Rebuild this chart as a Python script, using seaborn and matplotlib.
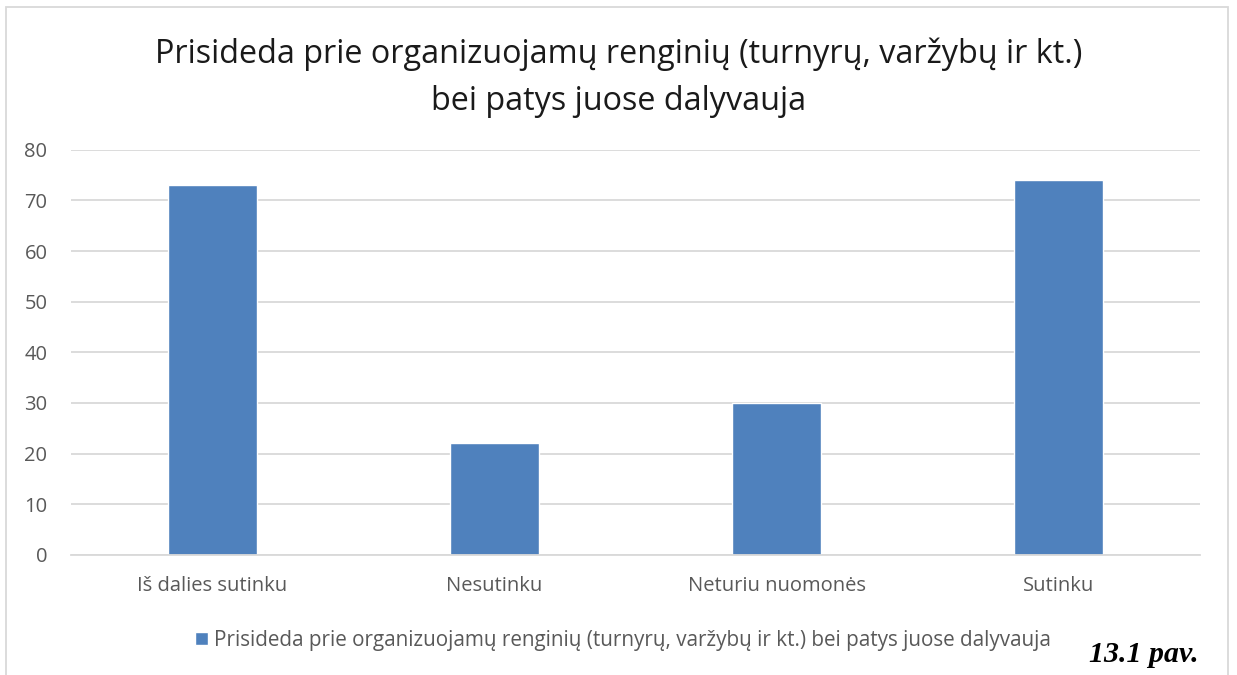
import numpy as np
import pandas as pd
import matplotlib.pyplot as plt
import seaborn as sns
from matplotlib.patches import Rectangle

# Data
categories = ['Iš dalies sutinku', 'Nesutinku', 'Neturiu nuomonės', 'Sutinku']
values = [73, 22, 30, 74]
series_name = 'Prisideda prie organizuojamų renginių (turnyrų, varžybų ir kt.) bei patys juose dalyvauja'
title = 'Prisideda prie organizuojamų renginių (turnyrų, varžybų ir kt.)\nbei patys juose dalyvauja'
yticks = [0, 10, 20, 30, 40, 50, 60, 70, 80]

df = pd.DataFrame({'Atsakymas': categories, 'Skaicius': values})

sns.set_style('white')
plt.rcParams['font.family'] = ['Open Sans', 'DejaVu Sans']

fig = plt.figure(figsize=(12.37, 6.75), dpi=100)
ax = fig.add_axes([0.0574, 0.178, 0.9126, 0.600])

bar_color = '#4f81bd'
sns.barplot(data=df, x='Atsakymas', y='Skaicius', color=bar_color, width=0.315,
            saturation=1, ax=ax, label=series_name)

ax.set_ylim(0, 80)
ax.set_yticks(yticks)
ax.set_xlim(-0.5, 3.5)
ax.yaxis.grid(True, color='#d9d9d9', linewidth=1.3)
ax.set_axisbelow(True)
for s in ['top', 'right', 'left']:
    ax.spines[s].set_visible(False)
ax.spines['bottom'].set_color('#d9d9d9')
ax.spines['bottom'].set_linewidth(1.3)
ax.tick_params(axis='both', length=0, labelsize=14.5, colors='#595959')
ax.tick_params(axis='x', pad=15)
ax.tick_params(axis='y', pad=17)
ax.set_xlabel('')
ax.set_ylabel('')

fig.text(0.5, 0.885, title, ha='center', va='center', fontsize=23.3,
         color='#1a1a1a', linespacing=1.55)

leg = ax.legend(loc='upper center', bbox_to_anchor=(0.489, -0.14), frameon=False,
                fontsize=14.9, handlelength=0.6, handleheight=0.6, handletextpad=0.3)
for t in leg.get_texts():
    t.set_color('#595959')

fig.text(0.969, 0.03, '13.1 pav.', ha='right', va='center', fontsize=21.5,
         fontweight='bold', fontstyle='italic', family='Liberation Serif', color='black')

# light chart frame
fig.patches.append(Rectangle((0.005, -0.01), 0.988, 1.0, transform=fig.transFigure,
                             fill=False, edgecolor='#d9d9d9', linewidth=1.3))

fig.savefig('out.png', dpi=100)
